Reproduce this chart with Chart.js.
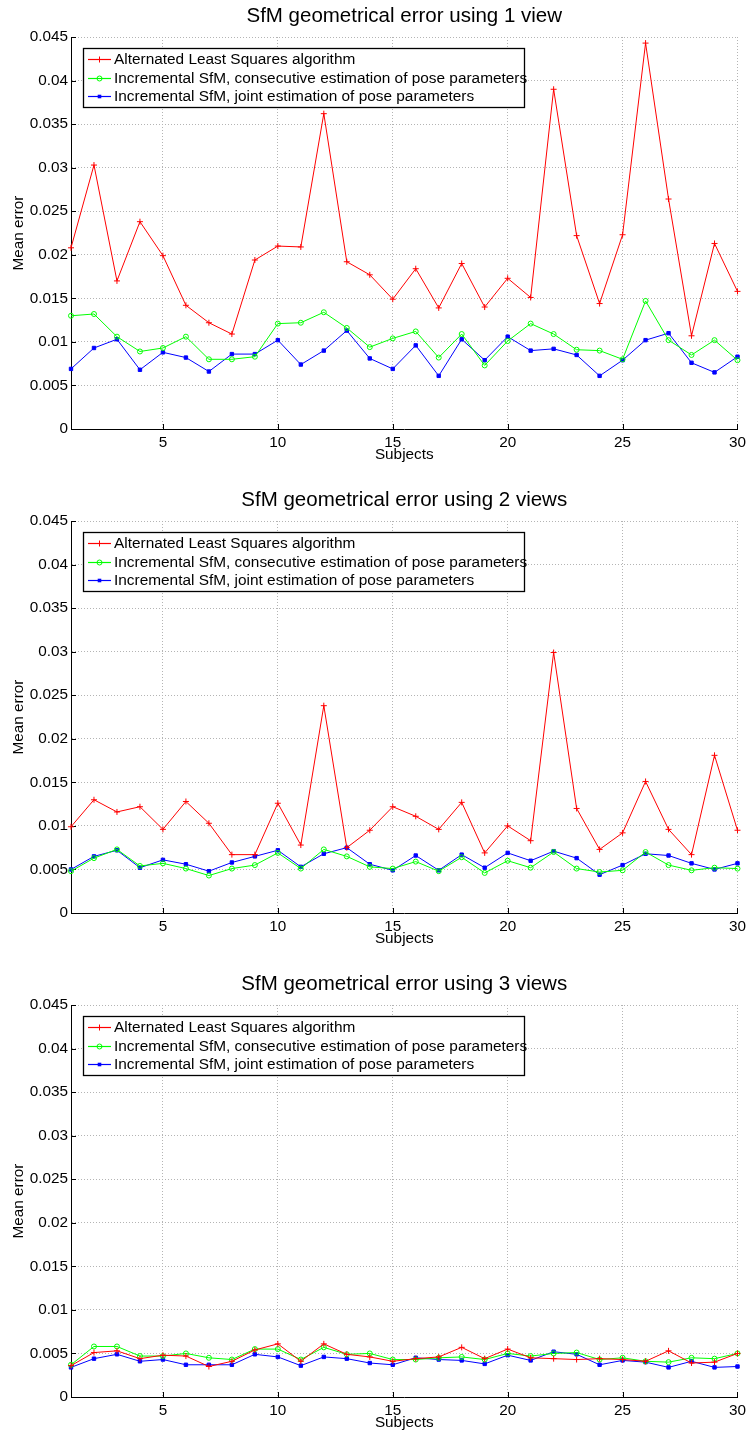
<!DOCTYPE html>
<html>
<head>
<meta charset="utf-8">
<script src="https://cdn.jsdelivr.net/npm/chart.js@4.4.1/dist/chart.umd.min.js"></script>
<style>
html,body{margin:0;padding:0;background:#fff;}
canvas{display:block;}
</style>
</head>
<body>
<canvas id="c1" width="751" height="484"></canvas>
<canvas id="c2" width="751" height="484"></canvas>
<canvas id="c3" width="751" height="466"></canvas>
<script>
// ---------- data ----------
const subjects = [1,2,3,4,5,6,7,8,9,10,11,12,13,14,15,16,17,18,19,20,21,22,23,24,25,26,27,28,29,30];
const xTickValues = [5,10,15,20,25,30];
const yTickValues = [0,0.005,0.01,0.015,0.02,0.025,0.03,0.035,0.04,0.045];
const yTickLabels = ['0','0.005','0.01','0.015','0.02','0.025','0.03','0.035','0.04','0.045'];
const titles = ['SfM geometrical error using 1 view','SfM geometrical error using 2 views','SfM geometrical error using 3 views'];
const seriesLabels = ['Alternated Least Squares algorithm','Incremental SfM, consecutive estimation of pose parameters','Incremental SfM, joint estimation of pose parameters'];
const xTitle = 'Subjects';
const yTitle = 'Mean error';

const als1  = [0.0208,0.0303,0.0170,0.0238,0.0199,0.0142,0.0122,0.0109,0.0194,0.0210,0.0209,0.0362,0.0192,0.0177,0.0149,0.0184,0.0139,0.0190,0.0140,0.0173,0.0151,0.0390,0.0222,0.0144,0.0223,0.0443,0.0264,0.0107,0.0213,0.0158];
const cons1 = [0.0130,0.0132,0.0106,0.0089,0.0093,0.0106,0.0080,0.0080,0.0083,0.0121,0.0122,0.0134,0.0116,0.0094,0.0104,0.0112,0.0082,0.0109,0.0073,0.0101,0.0121,0.0109,0.0091,0.0090,0.0080,0.0147,0.0102,0.0085,0.0102,0.0079];
const joint1= [0.0069,0.0093,0.0103,0.0068,0.0088,0.0082,0.0066,0.0086,0.0086,0.0102,0.0074,0.0090,0.0113,0.0081,0.0069,0.0096,0.0061,0.0103,0.0079,0.0106,0.0090,0.0092,0.0085,0.0061,0.0079,0.0102,0.0110,0.0076,0.0065,0.0083];

const als2  = [0.0099,0.0130,0.0116,0.0122,0.0096,0.0128,0.0103,0.0067,0.0067,0.0126,0.0078,0.0238,0.0075,0.0095,0.0122,0.0111,0.0096,0.0127,0.0069,0.0100,0.0083,0.0299,0.0120,0.0073,0.0092,0.0151,0.0096,0.0067,0.0181,0.0095];
const cons2 = [0.0048,0.0063,0.0073,0.0054,0.0057,0.0051,0.0043,0.0051,0.0055,0.0069,0.0051,0.0073,0.0065,0.0053,0.0051,0.0059,0.0048,0.0064,0.0046,0.0060,0.0052,0.0070,0.0051,0.0047,0.0049,0.0070,0.0055,0.0049,0.0052,0.0051];
const joint2= [0.0050,0.0065,0.0072,0.0052,0.0061,0.0056,0.0048,0.0058,0.0065,0.0072,0.0053,0.0068,0.0075,0.0056,0.0049,0.0066,0.0049,0.0067,0.0052,0.0069,0.0060,0.0071,0.0063,0.0044,0.0055,0.0068,0.0066,0.0057,0.0050,0.0057];

const als3  = [0.0036,0.0051,0.0053,0.0044,0.0048,0.0047,0.0035,0.0041,0.0054,0.0061,0.0041,0.0061,0.0049,0.0046,0.0041,0.0044,0.0046,0.0057,0.0044,0.0055,0.0045,0.0044,0.0043,0.0044,0.0043,0.0041,0.0053,0.0039,0.0040,0.0050];
const cons3 = [0.0037,0.0058,0.0058,0.0047,0.0047,0.0050,0.0045,0.0043,0.0055,0.0055,0.0043,0.0057,0.0049,0.0050,0.0043,0.0043,0.0045,0.0046,0.0043,0.0050,0.0047,0.0050,0.0051,0.0043,0.0045,0.0041,0.0040,0.0045,0.0044,0.0050];
const joint3= [0.0034,0.0044,0.0049,0.0041,0.0043,0.0037,0.0037,0.0037,0.0049,0.0046,0.0036,0.0046,0.0044,0.0039,0.0037,0.0045,0.0043,0.0042,0.0038,0.0048,0.0042,0.0052,0.0049,0.0037,0.0042,0.0040,0.0034,0.0041,0.0034,0.0035];

// ---------- drawing ----------
const FAMILY = '"Liberation Sans", Arial, Helvetica, sans-serif';
const PLOT_BOTTOM = 429;
const RED = 'rgb(255,0,0)', GREEN = 'rgb(0,255,0)', BLUE = 'rgb(0,0,255)';
const LEGEND_STYLE = [
  {color: RED, marker: 'cross'},
  {color: GREEN, marker: 'circle'},
  {color: BLUE, marker: 'rect'}
];

function drawMarker(ctx, style, x, y, color) {
  ctx.save();
  ctx.strokeStyle = color; ctx.fillStyle = color; ctx.lineWidth = 1;
  ctx.beginPath();
  if (style === 'cross') {
    ctx.moveTo(x - 3, y); ctx.lineTo(x + 3, y);
    ctx.moveTo(x, y - 3); ctx.lineTo(x, y + 3);
    ctx.stroke();
  } else if (style === 'circle') {
    ctx.arc(x, y, 2.5, 0, Math.PI * 2);
    ctx.stroke();
  } else {
    ctx.rect(x - 1.8, y - 1.8, 3.6, 3.6);
    ctx.fill();
  }
  ctx.restore();
}

const innerTicks = {
  id: 'innerTicks',
  beforeDatasetsDraw(chart) {
    const {ctx, chartArea: a, scales: {x, y}} = chart;
    ctx.save();
    ctx.strokeStyle = '#000'; ctx.lineWidth = 1;
    ctx.beginPath();
    y.ticks.forEach(t => {
      const py = Math.round(y.getPixelForValue(t.value)) + 0.5;
      ctx.moveTo(a.left, py); ctx.lineTo(a.left + 5, py);
    });
    x.ticks.forEach(t => {
      const px = Math.round(x.getPixelForValue(t.value)) + 0.5;
      ctx.moveTo(px, a.bottom); ctx.lineTo(px, a.bottom - 5);
    });
    ctx.stroke();
    ctx.restore();
  }
};

const boxLegend = {
  id: 'boxLegend',
  afterDraw(chart) {
    const {ctx, chartArea: a} = chart;
    const L = Math.round(a.left + 12), T = Math.round(a.top + 11), W = 441, H = 59;
    ctx.save();
    ctx.fillStyle = '#fff';
    ctx.fillRect(L, T, W, H);
    ctx.strokeStyle = '#000'; ctx.lineWidth = 1.3;
    ctx.strokeRect(L + 0.5, T + 0.5, W, H);
    ctx.font = '15.4px ' + FAMILY;
    ctx.textBaseline = 'middle';
    chart.data.datasets.forEach((ds, i) => {
      const st = LEGEND_STYLE[i];
      const yy = Math.round(T + 11 + i * 18.7) + 0.5;
      ctx.save();
      ctx.strokeStyle = st.color; ctx.lineWidth = 1.2;
      ctx.beginPath(); ctx.moveTo(L + 5, yy); ctx.lineTo(L + 28, yy); ctx.stroke();
      ctx.restore();
      drawMarker(ctx, st.marker, L + 16.5, yy, st.color);
      ctx.fillStyle = '#000';
      ctx.fillText(ds.label, L + 31, yy);
    });
    ctx.restore();
  }
};

function makeChart(id, k, alsVals, consVals, jointVals) {
  const canvas = document.getElementById(id);
  const H = canvas.height;
  const pts = vals => subjects.map((s, i) => ({x: s, y: vals[i]}));
  const tickFont = {family: FAMILY, size: 15.3, lineHeight: 1.2};
  return new Chart(canvas, {
    type: 'line',
    data: {
      datasets: [
        {label: seriesLabels[0], data: pts(alsVals), borderColor: RED, backgroundColor: RED,
         pointBorderColor: RED, pointBackgroundColor: RED,
         borderWidth: 1, pointStyle: 'cross', pointRadius: 3, pointBorderWidth: 1, clip: false},
        {label: seriesLabels[1], data: pts(consVals), borderColor: GREEN, backgroundColor: 'rgba(0,0,0,0)',
         pointBorderColor: GREEN, pointBackgroundColor: 'rgba(0,0,0,0)',
         borderWidth: 1, pointStyle: 'circle', pointRadius: 2.5, pointBorderWidth: 1, clip: false},
        {label: seriesLabels[2], data: pts(jointVals), borderColor: BLUE, backgroundColor: BLUE,
         pointBorderColor: BLUE, pointBackgroundColor: BLUE,
         borderWidth: 1, pointStyle: 'rect', pointRadius: 2.4, pointBorderWidth: 1, clip: false}
      ]
    },
    options: {
      responsive: false,
      animation: false,
      devicePixelRatio: 1,
      layout: {padding: {left: 0, right: 10.5, top: 0, bottom: 0}},
      elements: {line: {tension: 0}},
      plugins: {
        legend: {display: false},
        tooltip: {enabled: false},
        title: {
          display: true, text: titles[k], fullSize: false, color: '#000',
          font: {family: FAMILY, size: 20.5, weight: 'normal', lineHeight: 1.2},
          padding: {top: 4.5, bottom: 7.9}
        }
      },
      scales: {
        x: {
          type: 'linear', min: 1, max: 30,
          afterBuildTicks(s) { s.ticks = xTickValues.map(v => ({value: v})); },
          afterFit(s) { s.height = H - PLOT_BOTTOM; },
          grid: {color: '#b4b4b4', lineWidth: 1, drawTicks: false},
          border: {display: true, color: '#000', width: 1, dash: [1, 2]},
          ticks: {color: '#000', font: tickFont, padding: 5, maxRotation: 0, autoSkip: false,
                  callback: v => String(v)},
          title: {display: true, text: xTitle, color: '#000', font: tickFont,
                  padding: {top: 0, bottom: H - 455 - 9.2}}
        },
        y: {
          type: 'linear', min: 0, max: 0.045,
          afterBuildTicks(s) { s.ticks = yTickValues.map(v => ({value: v})); },
          afterFit(s) { s.width = 71; },
          grid: {color: '#b4b4b4', lineWidth: 1, drawTicks: false},
          border: {display: true, color: '#000', width: 1, dash: [1, 2]},
          ticks: {color: '#000', font: tickFont, padding: 3, autoSkip: false,
                  callback: (v, i) => yTickLabels[i]},
          title: {display: true, text: yTitle, color: '#000', font: tickFont,
                  padding: {top: 10, bottom: 0}}
        }
      }
    },
    plugins: [innerTicks, boxLegend]
  });
}

makeChart('c1', 0, als1, cons1, joint1);
makeChart('c2', 1, als2, cons2, joint2);
makeChart('c3', 2, als3, cons3, joint3);
</script>
</body>
</html>
